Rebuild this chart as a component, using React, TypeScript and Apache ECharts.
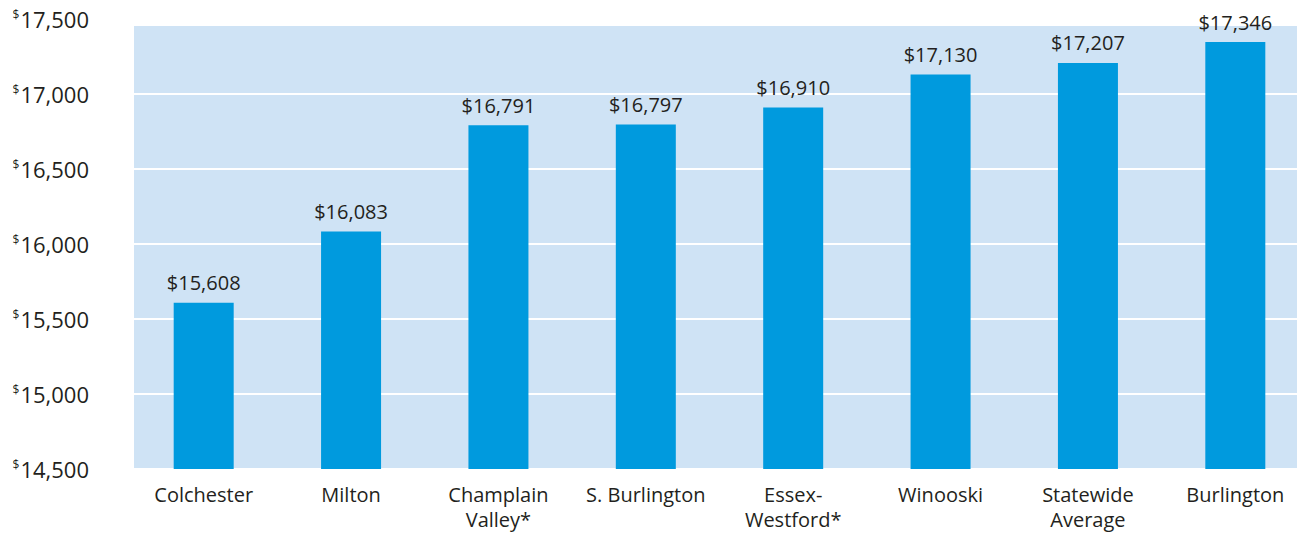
import React, { useEffect, useRef } from "react";
import * as echarts from "echarts";

const categories = [
  "Colchester",
  "Milton",
  "Champlain\nValley*",
  "S. Burlington",
  "Essex-\nWestford*",
  "Winooski",
  "Statewide\nAverage",
  "Burlington",
];
const values = [15608, 16083, 16791, 16797, 16910, 17130, 17207, 17346];
const yMin = 14500;
const yMax = 17500;
const yStep = 500;

const FONT = "'Open Sans', 'Noto Sans', sans-serif";
const TEXT = "#231f20";

function fmt(n: number) {
  return n.toLocaleString("en-US");
}

export default function App() {
  const ref = useRef<HTMLDivElement>(null);
  useEffect(() => {
    if (!ref.current) return;
    const chart = echarts.init(ref.current, undefined, { renderer: "svg" });
    chart.setOption({
      animation: false,
      backgroundColor: "#ffffff",
      graphic: [
        {
          type: "rect",
          z: -100,
          shape: { x: 134, y: 26, width: 1163, height: 444 },
          style: { fill: "#cfe3f5" },
          silent: true,
        },
      ],
      grid: { left: 130, top: 19, right: 0, bottom: 64 },
      xAxis: {
        type: "category",
        data: categories,
        axisLine: { show: false },
        axisTick: { show: false },
        axisLabel: {
          color: TEXT,
          fontFamily: FONT,
          fontSize: 20,
          lineHeight: 25,
          margin: 13,
          interval: 0,
        },
      },
      yAxis: {
        type: "value",
        min: yMin,
        max: yMax,
        interval: yStep,
        axisLine: { show: false },
        axisTick: { show: false },
        splitLine: { lineStyle: { color: "#ffffff", width: 2 } },
        axisLabel: {
          margin: 41,
          formatter: (v: number) => `{s|$}{v|${fmt(v)}}`,
          rich: {
            s: {
              color: TEXT,
              fontFamily: FONT,
              fontSize: 12,
              verticalAlign: "top",
              padding: [0, 1, 10, 0],
            },
            v: { color: TEXT, fontFamily: FONT, fontSize: 22 },
          },
        },
      },
      series: [
        {
          type: "bar",
          data: values,
          barWidth: 60,
          itemStyle: { color: "#009ade" },
          label: {
            show: true,
            position: "top",
            distance: 10,
            color: TEXT,
            fontFamily: FONT,
            fontSize: 20,
            formatter: (p: any) => "$" + fmt(p.value),
          },
        },
      ],
    });
    return () => chart.dispose();
  }, []);
  return (
    <div
      style={{
        position: "fixed",
        left: 0,
        top: 0,
        width: 1297,
        height: 533,
        overflow: "hidden",
        background: "#ffffff",
      }}
    >
      <div ref={ref} style={{ width: 1309, height: 533 }} />
    </div>
  );
}
